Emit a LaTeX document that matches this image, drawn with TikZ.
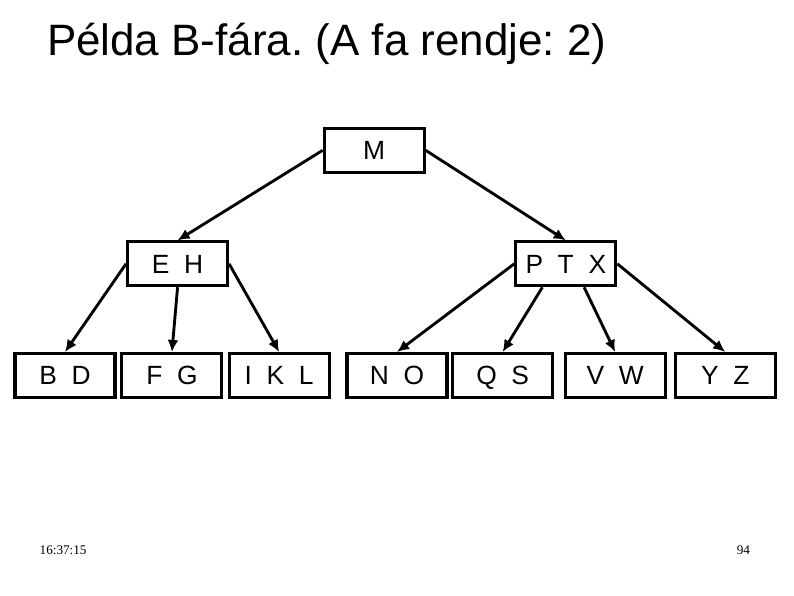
\documentclass[tikz,border=0pt]{standalone}
\usepackage{fontspec}
\setmainfont{Liberation Sans}
\newfontfamily\footfont{Liberation Serif}
\usepackage{tikz}
\usetikzlibrary{arrows.meta,positioning}
\frenchspacing

\begin{document}
\begin{tikzpicture}[
        keybox/.style={draw, line width=2.8pt, minimum width=3.2cm, minimum height=1.4cm,
            inner sep=0pt, text height=17pt, text depth=0pt, font=\fontsize{24}{29}\selectfont},
        edge/.style={line width=2.6pt, -{Latex[length=11pt,width=10pt]}}
    ]
        \useasboundingbox (0,0) rectangle (25.4,19.05);

        % cim
        \node[anchor=west, font=\fontsize{40}{48}\selectfont] (title) at (1.38,17.64) {Példa B-fára. (A fa rendje: 2)};

        % gyoker es belso csucsok
        \node[keybox] (m) at (11.97,14.24) {M};
        \node[keybox] (eh) at (5.68,10.61) {E~ H};
        \node[keybox] (ptx) at (18.10,10.61) {P~ T~ X};

        % levelek
        \node[keybox] (bd) at (2.08,7.04) {B~ D};
        \node[keybox] (fg) at (5.50,7.04) {F~ G};
        \node[keybox] (ikl) at (8.93,7.04) {I~ K~ L};
        \node[keybox] (no) at (12.70,7.04) {N~ O};
        \node[keybox] (qs) at (16.08,7.04) {Q~ S};
        \node[keybox] (vw) at (19.68,7.04) {V~ W};
        \node[keybox] (yz) at (23.20,7.04) {Y~ Z};

        \draw[edge] (m.west) -- (eh.north);
        \draw[edge] (m.east) -- (ptx.north);

        \draw[edge] (eh.west) -- (bd.north);
        \draw[edge] (eh.south) -- (fg.north);
        \draw[edge] (eh.east) -- (ikl.north);

        \draw[edge] (ptx.west) -- (no.north);
        \draw[edge] (ptx.225) -- (qs.north);
        \draw[edge] (ptx.-52) -- (vw.north);
        \draw[edge] (ptx.east) -- (yz.north);

        % lablec
        \node[font=\footfont\fontsize{12}{14}\selectfont] (time) at (2.02,1.44) {16:37:15};
        \node[font=\footfont\fontsize{12}{14}\selectfont] (page) at (23.78,1.44) {94};
    \end{tikzpicture}
\end{document}
